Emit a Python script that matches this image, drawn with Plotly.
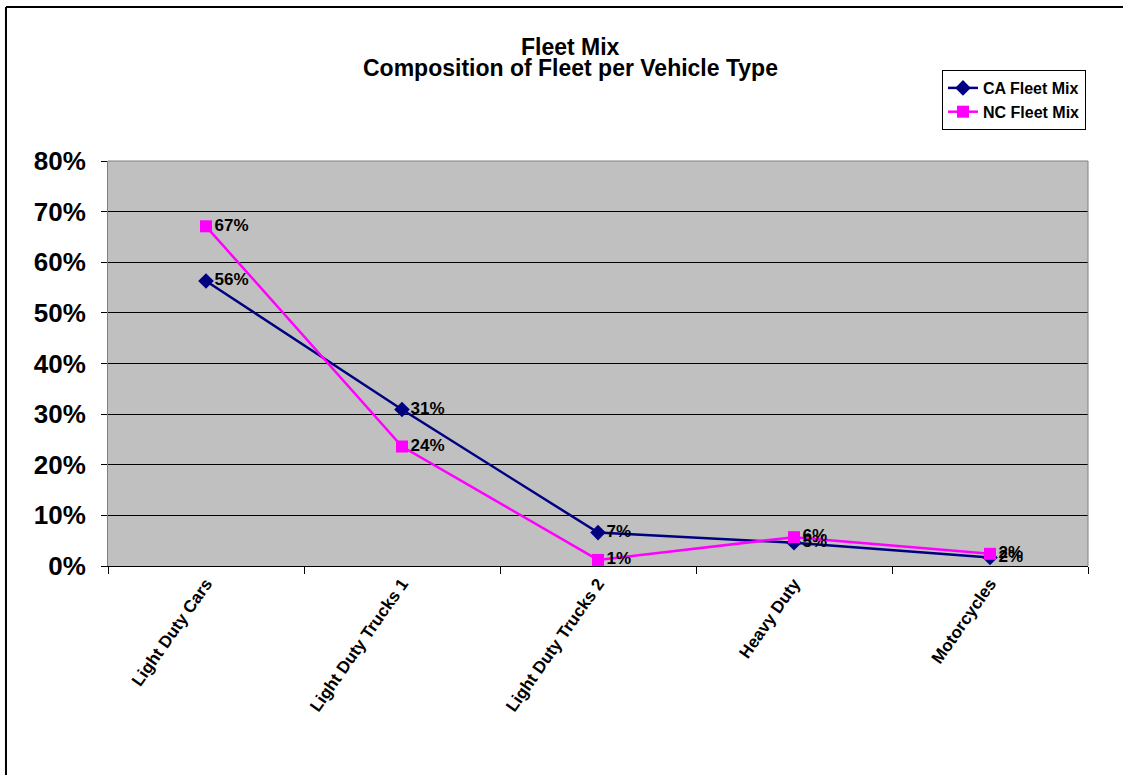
import plotly.graph_objects as go

categories = ["Light Duty Cars", "Light Duty Trucks 1", "Light Duty Trucks 2", "Heavy Duty", "Motorcycles"]
ca_fleet_mix = [0.563, 0.309, 0.066, 0.046, 0.017]
nc_fleet_mix = [0.671, 0.236, 0.012, 0.057, 0.024]
y_ticks = [0, 0.1, 0.2, 0.3, 0.4, 0.5, 0.6, 0.7, 0.8]

font = "Arial, Liberation Sans, sans-serif"
label_font = dict(family=font, size=17, color="black", weight="bold")

fig = go.Figure()
fig.add_trace(go.Scatter(
    x=categories, y=ca_fleet_mix, name="CA Fleet Mix",
    mode="lines+markers+text",
    line=dict(color="#000080", width=2.5),
    marker=dict(symbol="diamond", size=12, color="#000080"),
    texttemplate="%{y:.0%}", textposition="middle right",
    textfont=label_font,
))
fig.add_trace(go.Scatter(
    x=categories, y=nc_fleet_mix, name="NC Fleet Mix",
    mode="lines+markers+text",
    line=dict(color="#FF00FF", width=2.5),
    marker=dict(symbol="square", size=12, color="#FF00FF"),
    texttemplate="%{y:.0%}", textposition="middle right",
    textfont=label_font,
))

fig.update_layout(
    width=1123, height=775,
    margin=dict(l=108, r=35, t=161, b=209),
    paper_bgcolor="white",
    plot_bgcolor="#C0C0C0",
    font=dict(family=font, color="black"),
    showlegend=True,
    legend=dict(
        x=0.851, xanchor="left", y=1.2247, yanchor="top",
        bgcolor="white", bordercolor="black", borderwidth=1,
        font=dict(family=font, size=16, color="black", weight="bold"),
        tracegroupgap=0, itemwidth=30,
    ),
    xaxis=dict(
        type="category", tickson="boundaries", ticks="outside", ticklen=7,
        tickcolor="black", showline=True, linecolor="black", linewidth=1,
        showgrid=False, tickangle=-55,
        tickfont=dict(family=font, size=17, color="black", weight="bold"),
        range=[-0.5, 4.5],
    ),
    yaxis=dict(
        range=[0, 0.8], tickvals=y_ticks, tickformat=".0%",
        showgrid=True, gridcolor="black", gridwidth=1,
        showline=True, linecolor="#808080", linewidth=1,
        ticks="outside", ticklen=6, tickcolor="black",
        ticklabelstandoff=10,
        tickfont=dict(family=font, size=26, color="black", weight="bold"),
        zeroline=False,
    ),
    annotations=[
        dict(text="<b>Fleet Mix</b>", xref="paper", yref="paper",
             x=0.472, y=1.281, xanchor="center", yanchor="middle",
             showarrow=False, font=dict(family=font, size=23, color="black")),
        dict(text="<b>Composition of Fleet per Vehicle Type</b>", xref="paper", yref="paper",
             x=0.472, y=1.229, xanchor="center", yanchor="middle",
             showarrow=False, font=dict(family=font, size=23, color="black")),
    ],
    shapes=[
        # chart frame: left and top edges
        dict(type="line", xref="paper", yref="paper",
             x0=-0.1041, x1=-0.1041, y0=-0.6, y1=1.380,
             line=dict(color="black", width=2), layer="below"),
        dict(type="line", xref="paper", yref="paper",
             x0=-0.1041, x1=1.2, y0=1.380, y1=1.380,
             line=dict(color="black", width=2), layer="below"),
        # plot area edges
        dict(type="line", xref="paper", yref="paper",
             x0=1, x1=1, y0=0, y1=1, line=dict(color="#808080", width=1)),
        dict(type="line", xref="paper", yref="paper",
             x0=0, x1=1, y0=1, y1=1, line=dict(color="#808080", width=1)),
    ],
)

fig.write_html("out.html")
